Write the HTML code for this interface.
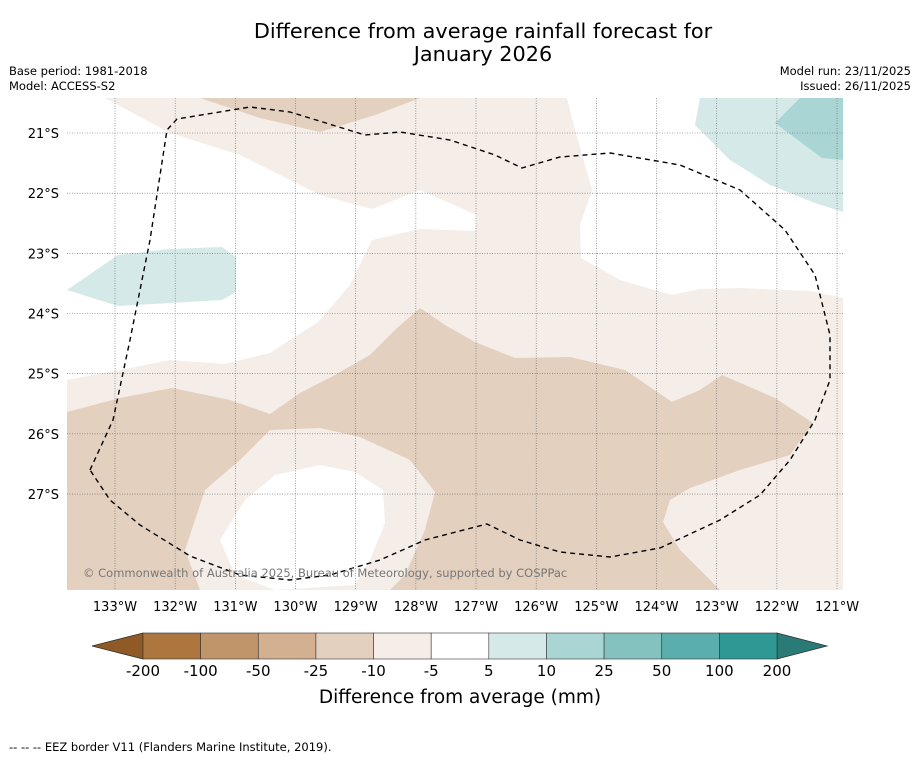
<!DOCTYPE html>
<html><head><meta charset="utf-8"><style>
body{margin:0;background:#fff;font-family:"DejaVu Sans","Liberation Sans",sans-serif;}
svg text{font-family:"DejaVu Sans","Liberation Sans",sans-serif;}
</style></head><body>
<svg id="chart" width="919" height="758" viewBox="0 0 919 758" xmlns="http://www.w3.org/2000/svg">
<text x="483" y="38" font-size="20.8" text-anchor="middle">Difference from average rainfall forecast for</text>
<text x="483" y="61" font-size="20.8" text-anchor="middle">January 2026</text>
<text x="9" y="75" font-size="11.5">Base period: 1981-2018</text>
<text x="9" y="90" font-size="11.5">Model: ACCESS-S2</text>
<text x="911" y="75" font-size="11.5" text-anchor="end">Model run: 23/11/2025</text>
<text x="911" y="90" font-size="11.5" text-anchor="end">Issued: 26/11/2025</text>
<g id="map"></g>
<g id="cbar"></g>
<text x="460" y="703" font-size="18.5" text-anchor="middle">Difference from average (mm)</text>
<text x="9" y="751" font-size="11.5">--  --  -- EEZ border V11 (Flanders Marine Institute, 2019).</text>
</svg>
<script>
const lonTicks=[-133,-132,-131,-130,-129,-128,-127,-126,-125,-124,-123,-122,-121];
const latTicks=[-21,-22,-23,-24,-25,-26,-27];
const cbLabels=["-200","-100","-50","-25","-10","-5","5","10","25","50","100","200"];
const cbColors=["#ad763f","#c0956a","#d3b090","#e3d0bf","#f4ede8","#ffffff","#d5e9e8","#a9d5d4","#84c2c0","#5aaeab","#2f9894"];
const NS="http://www.w3.org/2000/svg";
const X0=67,X1=843,Y0=98,Y1=590,K=60.17;
const xs=lon=>115+(lon+133)*K, ys=lat=>133+(-21-lat)*K;
const map=document.getElementById('map');
function mk(tag,attrs,parent){const e=document.createElementNS(NS,tag);for(const k in attrs)e.setAttribute(k,attrs[k]);parent.appendChild(e);return e;}
function poly(pts,fill,name){const e=mk('polygon',{points:pts,fill:fill},map);

}
poly(`${X0},${Y0} ${X1},${Y0} ${X1},${Y1} ${X0},${Y1}`,"#f4ede8","contour-minus5-10");
poly("67,98 105,98 170,133 240,155 320,195 372,209 420,190 477,215 475,231 420,229 372,240 350,285 318,322 270,353 225,364 170,360 120,370 67,380","#ffffff","contour-neutral-west");
poly("567,98 843,98 843,298 810,291 740,288 700,289 672,295 620,280 581,258 580,225 592,190 575,130","#ffffff","contour-neutral-east");
poly("200,98 420,98 375,115 320,132 260,118","#e3d0bf","contour-minus10-25-north");
poly("67,412 120,398 172,388 230,400 270,414 300,393 335,375 370,355 395,330 420,308 445,325 475,342 515,358 570,357 625,370 672,402 700,390 722,375 775,398 813,423 790,455 740,470 690,488 670,500 663,522 680,550 720,590 67,590","#e3d0bf","contour-minus10-25-south");
poly("270,430 320,428 360,437 410,460 435,492 425,530 405,575 390,590 200,590 185,550 205,490 240,460","#f4ede8","contour-minus5-10-south");
poly("320,465 355,472 383,490 385,523 370,560 355,585 275,590 235,575 220,540 245,500 275,475","#ffffff","contour-neutral-south");
poly("67,290 118,255 170,249 222,247 236,257 236,292 222,300 170,303 118,306","#d5e9e8","contour-plus5-10-west");
poly("700,98 843,98 843,212 815,203 770,185 730,160 695,125","#d5e9e8","contour-plus5-10-ne");
poly("800,98 843,98 843,160 822,158 775,123","#a9d5d4","contour-plus10-25-ne");
lonTicks.forEach(l=>{const x=xs(l);
const g=mk('line',{x1:x,x2:x,y1:Y0,y2:Y1,stroke:'#666','stroke-width':0.6,'stroke-dasharray':'1,1.5'},map);


const t=mk('text',{x:x,y:611,'font-size':13,'text-anchor':'middle'},map);t.textContent=Math.abs(l)+"°W";

});
latTicks.forEach(l=>{const y=ys(l);
const g=mk('line',{x1:X0,x2:X1,y1:y,y2:y,stroke:'#666','stroke-width':0.6,'stroke-dasharray':'1,1.5'},map);


const t=mk('text',{x:59,y:y+5,'font-size':13,'text-anchor':'end'},map);t.textContent=Math.abs(l)+"°S";

});
const eez=mk('polyline',{points:"90,470 113,420 130,340 150,240 167,130 177,119 250,107 290,112 365,135 400,132 450,140 495,155 522,168 560,157 610,153 680,165 740,190 785,230 815,275 830,335 830,380 815,420 790,460 760,495 720,520 660,548 610,557 560,552 520,540 487,524 425,540 380,560 330,575 290,580 240,575 190,556 140,525 110,500 90,470",fill:'none',stroke:'#000','stroke-width':1.4,'stroke-dasharray':'5,4'},map);


const cp=mk('text',{x:83,y:577,'font-size':11.5,fill:'#777'},map);cp.textContent="© Commonwealth of Australia 2025, Bureau of Meteorology, supported by COSPPac";


const cb=document.getElementById('cbar');const CX0=143,CX1=777,CY0=633,CY1=659,w=(CX1-CX0)/cbColors.length;
const lt=mk('polygon',{points:`${CX0},${CY0} 92,646 ${CX0},${CY1}`,fill:'#8f5a25',stroke:'#333','stroke-width':0.8},cb);


const rt=mk('polygon',{points:`${CX1},${CY0} 827,646 ${CX1},${CY1}`,fill:'#2a7b78',stroke:'#333','stroke-width':0.8},cb);


cbColors.forEach((c,i)=>{const r=mk('rect',{x:CX0+i*w,y:CY0,width:w,height:CY1-CY0,fill:c,stroke:'#333','stroke-width':0.6},cb);

});
cbLabels.forEach((s,i)=>{const t=mk('text',{x:CX0+i*w,y:676,'font-size':15,'text-anchor':'middle'},cb);t.textContent=s;

});
</script>
</body></html>
